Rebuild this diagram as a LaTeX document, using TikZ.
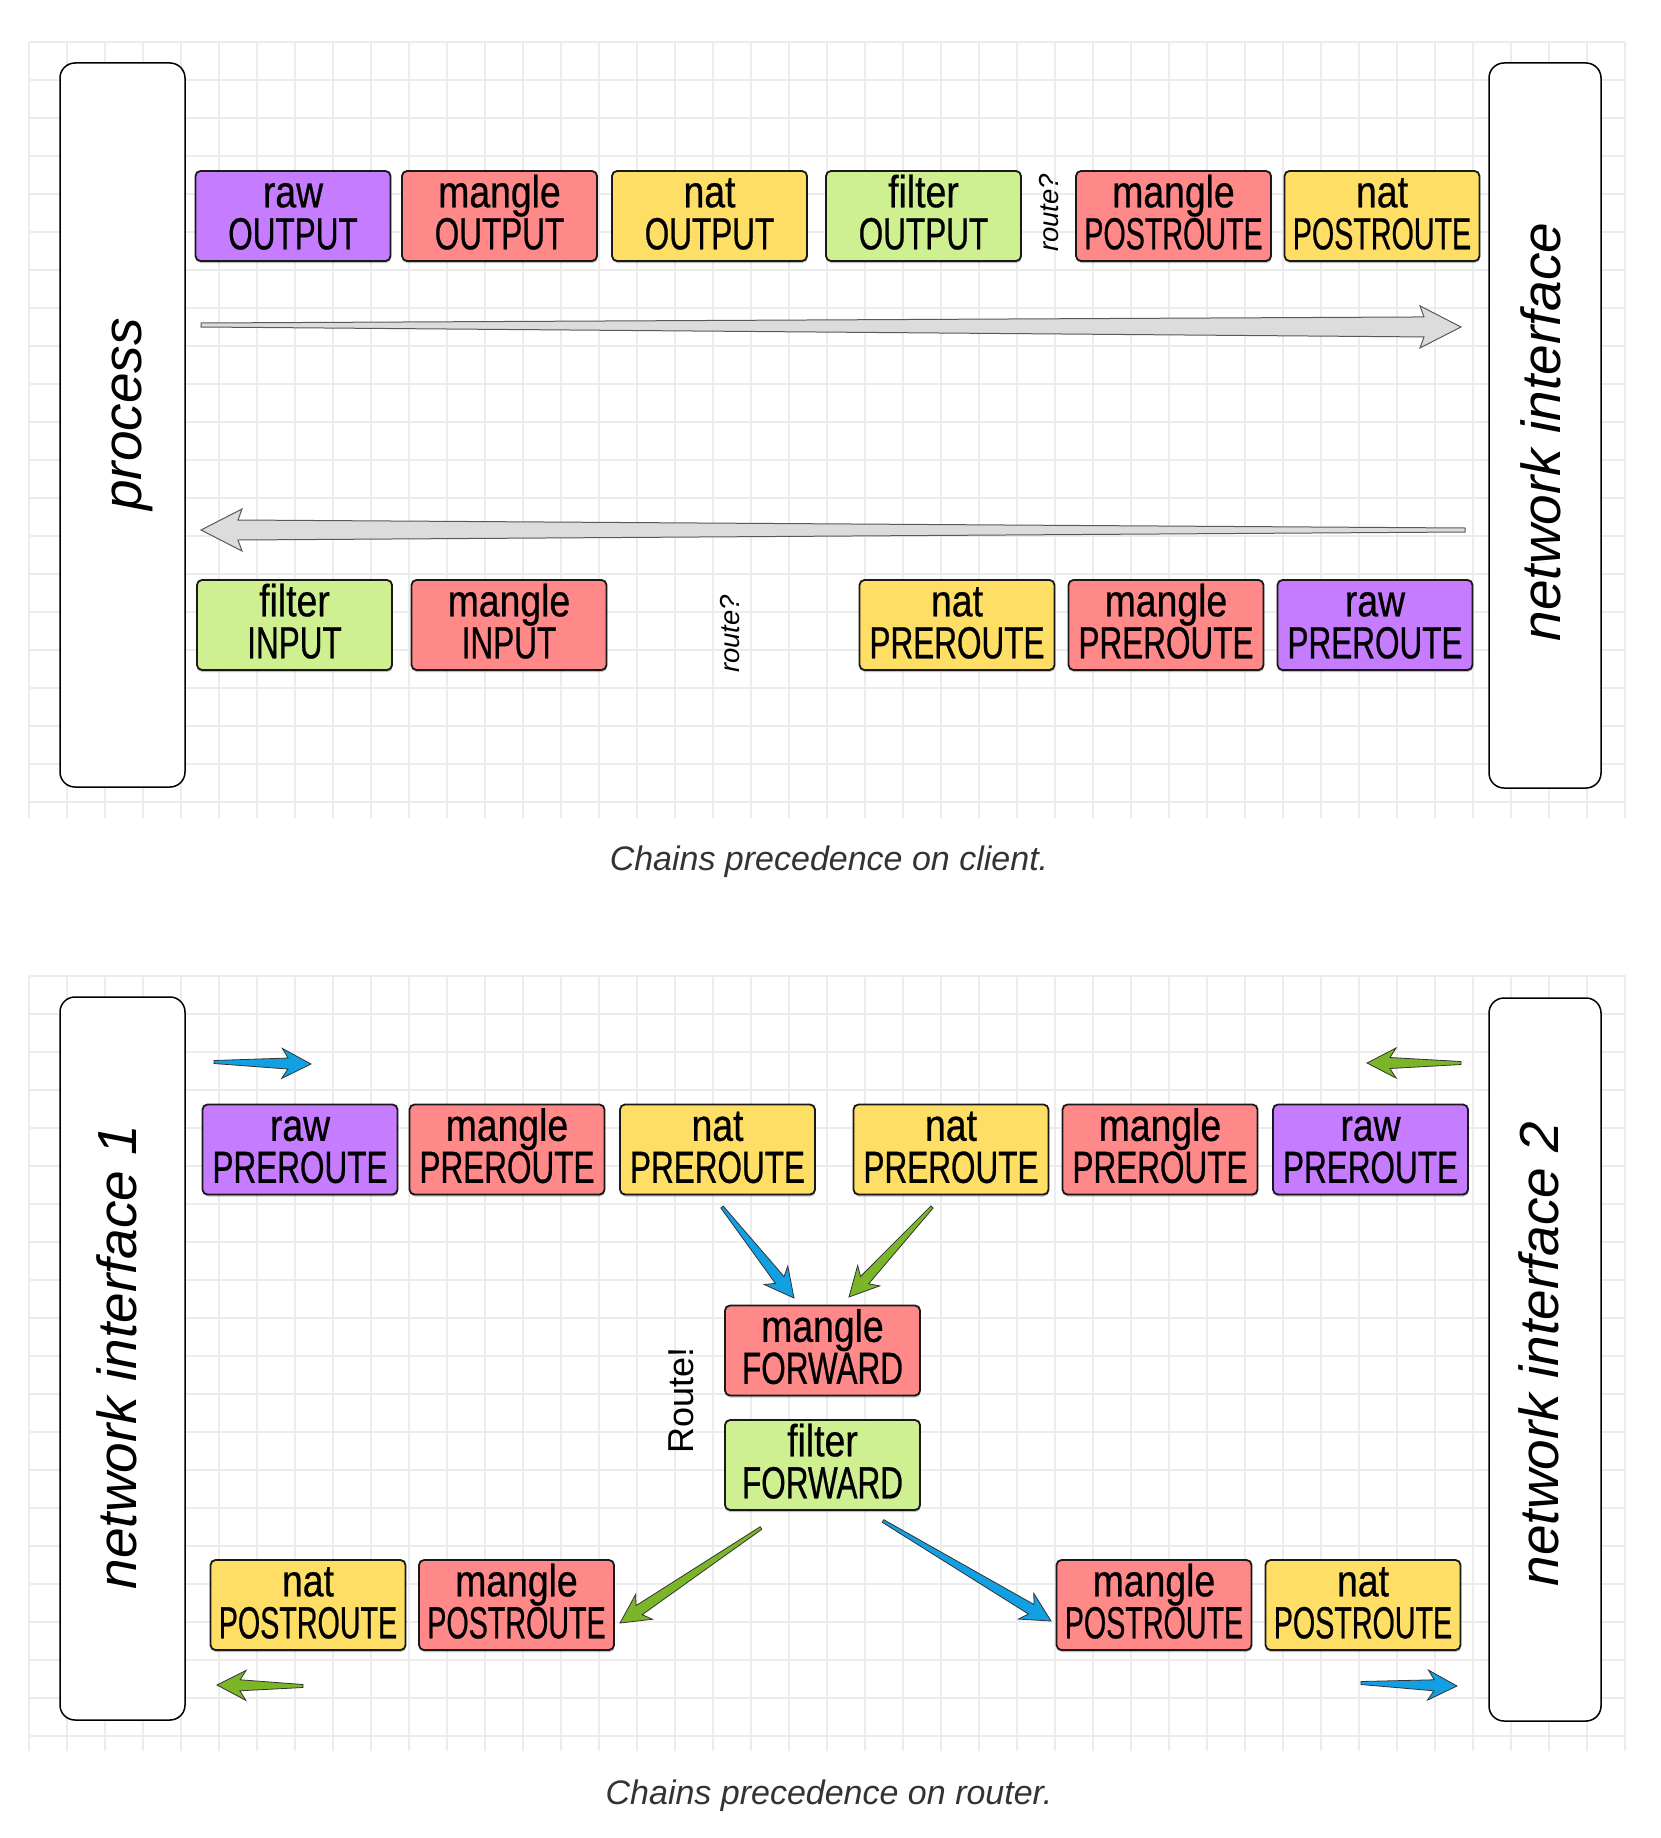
\documentclass[tikz,border=0pt]{standalone}
\usepackage{fontspec}
\setmainfont{Liberation Sans}
\newfontfamily\boxfont[FakeStretch=0.70,FakeBold=0.6]{Liberation Sans}
\newfontfamily\boxfontL[FakeStretch=0.83,FakeBold=0.6]{Liberation Sans}
\usetikzlibrary{calc,shadows}
\definecolor{cpurple}{RGB}{198,124,255}
\definecolor{cred}{RGB}{255,136,136}
\definecolor{cyellow}{RGB}{255,222,102}
\definecolor{cgreen}{RGB}{207,240,144}
\definecolor{ablue}{RGB}{18,160,226}
\definecolor{agreen}{RGB}{122,182,40}
\definecolor{agray}{RGB}{220,220,220}
\definecolor{gridc}{RGB}{236,236,236}
\newcommand\chtext[2]{\vphantom{l}{\boxfontL #1}\\#2\rule[-8pt]{0pt}{8pt}}
\newcommand\postr{\scalebox{0.91}[1]{POSTROUTE}}
% tapered arrow: tail, tip, fill, tail half width, shaft half width, notch dist, head length, head half width, style
\newcommand\tarrow[9]{%
  \draw[#9, fill=#3] ($(#1)!#4!90:(#2)$) -- ($(#2)!#6!(#1)!#5!-90:(#1)$) -- ($(#2)!#7!(#1)!#8!-90:(#1)$) -- (#2)
   -- ($(#2)!#7!(#1)!#8!90:(#1)$) -- ($(#2)!#6!(#1)!#5!90:(#1)$) -- ($(#1)!#4!-90:(#2)$) -- cycle;}
\newcommand\carrow[3]{\tarrow{#1}{#2}{#3}{1.5pt}{5.5pt}{23pt}{29pt}{15pt}{draw=black!80, line width=0.8pt, line join=miter}}
\newcommand\garrow[2]{\tarrow{#1}{#2}{agray}{2pt}{10pt}{37pt}{41pt}{21pt}{draw=black!65, line width=1pt, line join=miter}}
\tikzset{
  chainbox/.style={draw=black!90, line width=1.8pt, rounded corners=5pt,
    minimum width=195pt, minimum height=90pt, inner sep=0pt, align=center,
    drop shadow={shadow xshift=0.5pt, shadow yshift=-2pt, fill=black, opacity=0.25},
    font=\boxfont\fontsize{45}{42}\selectfont},
  rawc/.style={chainbox, fill=cpurple},
  manglec/.style={chainbox, fill=cred},
  natc/.style={chainbox, fill=cyellow},
  filterc/.style={chainbox, fill=cgreen},
  bigbox/.style={draw=black, line width=1.5pt, rounded corners=15pt, fill=white, inner sep=0pt},
  biglabel/.style={rotate=90, inner sep=0pt, font=\itshape\fontsize{55}{55}\selectfont},
  gridline/.style={draw=gridc, line width=1.5pt},
  routeq/.style={rotate=90, inner sep=0pt, font=\itshape\fontsize{27.5}{27.5}\selectfont},
  routex/.style={rotate=90, inner sep=0pt, font=\fontsize{36}{36}\selectfont},
  caption/.style={inner sep=0pt, text=black!80, font=\itshape\fontsize{34}{34}\selectfont}
}
\begin{document}
\begin{tikzpicture}[x=1pt,y=-1pt]
\useasboundingbox (0,0) rectangle (1660,1838);
\fill[white] (0,0) rectangle (1660,1838);
% grids
\foreach \i in {0,...,42} {
  \draw[gridline] ({29+38*\i},42) -- ({29+38*\i},818);
  \draw[gridline] ({29+38*\i},976) -- ({29+38*\i},1751);
}
\foreach \j in {0,...,20} {
  \draw[gridline] (29,{42+38*\j}) -- (1626,{42+38*\j});
  \draw[gridline] (29,{976+38*\j}) -- (1626,{976+38*\j});
}
% ===== client =====
\node[bigbox, minimum height=724pt, minimum width=125pt] (proc) at (122.5,425) {};
\node[bigbox, minimum height=725pt, minimum width=112pt] (nic) at (1545,425.5) {};
\node[biglabel] (procl) at (132,414.5) {process};
\node[biglabel] (nicl) at (1540.5,432) {network interface};
\node[rawc] (rawout) at (293,216) {\chtext{raw}{OUTPUT}};
\node[manglec] (mangout) at (499.5,216) {\chtext{mangle}{OUTPUT}};
\node[natc] (natout) at (709.5,216) {\chtext{nat}{OUTPUT}};
\node[filterc] (filtout) at (923.5,216) {\chtext{filter}{OUTPUT}};
\node[routeq] (rq1) at (1049,213) {route?};
\node[manglec] (mangpost) at (1173.5,216) {\chtext{mangle}{\postr}};
\node[natc] (natpost) at (1382,216) {\chtext{nat}{\postr}};
\node[filterc] (filtin) at (294.5,625) {\chtext{filter}{INPUT}};
\node[manglec] (mangin) at (509,625) {\chtext{mangle}{INPUT}};
\node[routeq] (rq2) at (730,634) {route?};
\node[natc] (natpre) at (957,625) {\chtext{nat}{PREROUTE}};
\node[manglec] (mangpre) at (1166,625) {\chtext{mangle}{PREROUTE}};
\node[rawc] (rawpre) at (1375,625) {\chtext{raw}{PREROUTE}};
\coordinate (ga1t) at (201,325);
\coordinate (ga1h) at (1461,327);
\coordinate (ga2t) at (1465,530);
\coordinate (ga2h) at (201,530);
\garrow{ga1t}{ga1h}
\garrow{ga2t}{ga2h}
\node[caption] (cap1) at (829,862) {Chains precedence on client.};
% ===== router =====
\node[bigbox, minimum height=723pt, minimum width=125pt] (ni1) at (122.5,1358.5) {};
\node[bigbox, minimum height=723pt, minimum width=112pt] (ni2) at (1545,1359.5) {};
\node[biglabel] (ni1l) at (116.5,1357) {network interface 1};
\node[biglabel] (ni2l) at (1538.5,1354) {network interface 2};
\node[rawc] (r1raw) at (300,1149.5) {\chtext{raw}{PREROUTE}};
\node[manglec] (r1mang) at (507,1149.5) {\chtext{mangle}{PREROUTE}};
\node[natc] (r1nat) at (717.5,1149.5) {\chtext{nat}{PREROUTE}};
\node[natc] (r2nat) at (951,1149.5) {\chtext{nat}{PREROUTE}};
\node[manglec] (r2mang) at (1160,1149.5) {\chtext{mangle}{PREROUTE}};
\node[rawc] (r2raw) at (1370.5,1149.5) {\chtext{raw}{PREROUTE}};
\node[manglec] (mfwd) at (822.5,1350.5) {\chtext{mangle}{FORWARD}};
\node[filterc] (ffwd) at (822.5,1465) {\chtext{filter}{FORWARD}};
\node[routex] (rx) at (681,1400) {Route!};
\node[natc] (p1nat) at (308,1605) {\chtext{nat}{\postr}};
\node[manglec] (p1mang) at (516.5,1605) {\chtext{mangle}{\postr}};
\node[manglec] (p2mang) at (1154,1605) {\chtext{mangle}{\postr}};
\node[natc] (p2nat) at (1363,1605) {\chtext{nat}{\postr}};
\coordinate (b1t) at (214,1062);  \coordinate (b1h) at (311,1064);
\coordinate (g1t) at (1461,1063); \coordinate (g1h) at (1367,1063);
\coordinate (bd1t) at (722,1207); \coordinate (bd1h) at (794,1298);
\coordinate (gd1t) at (932,1207); \coordinate (gd1h) at (849,1297);
\coordinate (gd2t) at (761,1528); \coordinate (gd2h) at (620,1623);
\coordinate (bd2t) at (883,1521); \coordinate (bd2h) at (1051,1621);
\coordinate (g2t) at (303,1686);  \coordinate (g2h) at (217,1685);
\coordinate (b2t) at (1361,1683); \coordinate (b2h) at (1457,1686);
\carrow{b1t}{b1h}{ablue}
\carrow{g1t}{g1h}{agreen}
\carrow{bd1t}{bd1h}{ablue}
\carrow{gd1t}{gd1h}{agreen}
\carrow{gd2t}{gd2h}{agreen}
\carrow{bd2t}{bd2h}{ablue}
\carrow{g2t}{g2h}{agreen}
\carrow{b2t}{b2h}{ablue}
\node[caption] (cap2) at (829,1796) {Chains precedence on router.};
\end{tikzpicture}
\end{document}
